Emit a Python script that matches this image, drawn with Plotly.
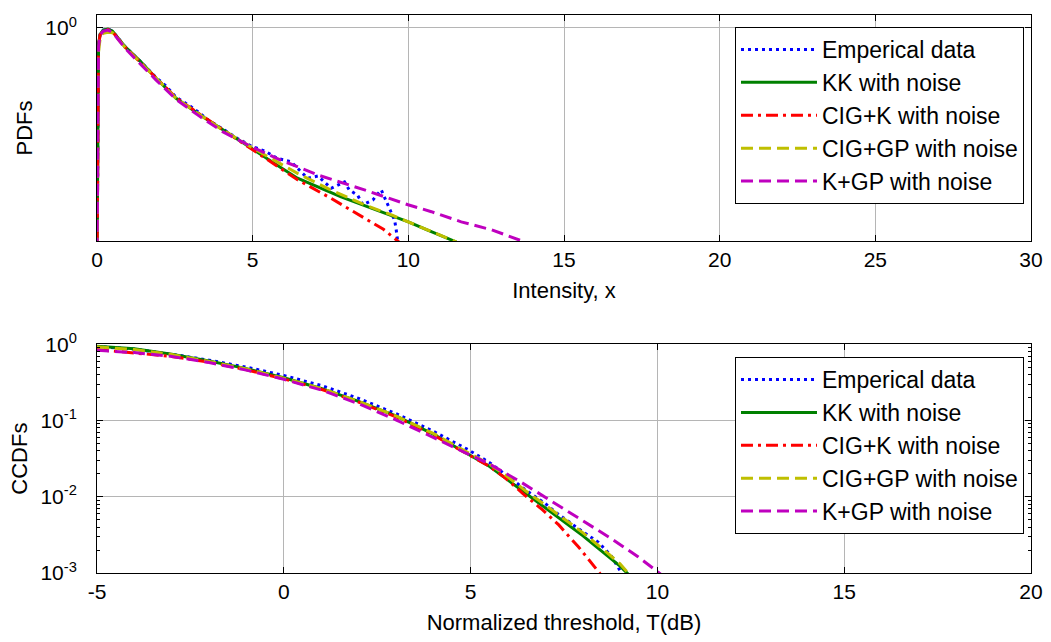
import plotly.graph_objects as go

# series names and styles (MATLAB default colour order)
names = ["Emperical data", "KK with noise", "CIG+K with noise", "CIG+GP with noise", "K+GP with noise"]
colors = ["#0000FF", "#008000", "#FF0000", "#BFBF00", "#BF00BF"]
dashes = ["3px,4px", "solid", "12px,5px,3px,5px", "12px,6px", "12px,6px"]

# tick labels (MATLAB style, plain hyphen)
pdf_xticks = [0, 5, 10, 15, 20, 25, 30]
ccdf_xticks = [-5, 0, 5, 10, 15, 20]
ccdf_xlabels = ["-5", "0", "5", "10", "15", "20"]
ccdf_yticks = [1, 0.1, 0.01, 0.001]
ccdf_ylabels = ["10<sup>0</sup>", "10<sup>-1</sup>", "10<sup>-2</sup>", "10<sup>-3</sup>"]

# ---- PDFs (top panel) ----
pdf_x_emp = [0, 0.02, 0.05, 0.1, 0.2, 0.35, 0.5, 0.9, 1.4, 1.9, 2.2, 2.54, 3.0, 3.3, 3.6, 4.05, 4.5,
             4.96, 5.42, 5.8, 6.23, 6.76, 7.1, 7.52, 7.95, 8.1, 8.37, 8.54, 8.86, 9.13, 9.4, 9.56, 9.61, 9.67]
pdf_y_emp = [3.16e-5, 0.0316, 0.501, 0.759, 0.912, 0.955, 0.871, 0.447, 0.234, 0.117, 0.0832, 0.0501,
             0.0339, 0.0251, 0.0182, 0.0126, 0.00851, 0.00603, 0.00479, 0.00355, 0.00309, 0.00151,
             0.00166, 0.000977, 0.00129, 0.000912, 0.000724, 0.000479, 0.000589, 0.000912, 0.000407,
             0.000245, 0.000162, 0.000089]

pdf_x_kk = [0, 0.02, 0.05, 0.1, 0.2, 0.35, 0.5, 0.9, 1.4, 1.9, 2.54, 3.3, 4.05, 4.96, 5.9, 6.44,
            7.84, 9.13, 10.0, 10.64, 11.55]
pdf_y_kk = [3.16e-5, 0.0316, 0.501, 0.759, 0.912, 0.955, 0.871, 0.447, 0.234, 0.1135, 0.0479, 0.0234,
            0.012, 0.0055, 0.0024, 0.00151, 0.000676, 0.000355, 0.000229, 0.000158, 0.0000955]

pdf_x_cigk = [0, 0.02, 0.05, 0.1, 0.2, 0.35, 0.5, 0.9, 1.4, 1.9, 2.54, 3.3, 4.05, 4.96, 5.9, 6.44,
              7.52, 8.59, 9.2, 9.72]
pdf_y_cigk = [3.16e-5, 0.0251, 0.479, 0.741, 0.891, 0.933, 0.851, 0.437, 0.224, 0.112, 0.049, 0.024,
              0.0123, 0.0055, 0.00229, 0.00141, 0.000631, 0.000269, 0.000166, 0.0000933]

pdf_x_ciggp = [0, 0.02, 0.05, 0.1, 0.2, 0.35, 0.5, 0.9, 1.4, 1.9, 2.54, 3.3, 4.05, 4.96, 5.9, 6.44,
               7.5, 8.59, 9.5, 10.64, 11.55]
pdf_y_ciggp = [3.16e-5, 0.0158, 0.355, 0.631, 0.794, 0.832, 0.813, 0.437, 0.224, 0.112, 0.0479, 0.0234,
               0.012, 0.00575, 0.00282, 0.00186, 0.000912, 0.000479, 0.000302, 0.000158, 0.0000955]

pdf_x_kgp = [0, 0.02, 0.05, 0.1, 0.2, 0.35, 0.5, 0.9, 1.4, 1.9, 2.54, 3.3, 4.05, 4.96, 5.9, 7.09,
             8.59, 9.99, 10.74, 11.7, 12.68, 13.74]
pdf_y_kgp = [3.16e-5, 0.0316, 0.447, 0.741, 0.871, 0.912, 0.832, 0.417, 0.209, 0.105, 0.0457, 0.0219,
             0.0112, 0.00589, 0.00331, 0.00174, 0.000912, 0.000479, 0.000355, 0.000229, 0.000162, 0.0000955]

# ---- CCDFs (bottom panel) ----
ccdf_x_emp = [-5, -4, -3, -2, -1, 0, 1, 2, 3, 4, 4.96, 5.5, 5.94, 6.5, 7.0, 7.27, 7.89, 8.43, 8.77, 9.0, 9.1]
ccdf_y_emp = [0.933, 0.861, 0.741, 0.617, 0.501, 0.389, 0.288, 0.195, 0.123, 0.0724, 0.0407, 0.0282,
              0.0195, 0.012, 0.00813, 0.00631, 0.0038, 0.00251, 0.00166, 0.00105, 0.000891]

ccdf_x_kk = [-5, -4, -3, -2, -1, 0, 1, 2, 3, 4, 4.96, 5.5, 5.94, 6.47, 7.0, 7.5, 8.0, 8.5, 9.0, 9.25]
ccdf_y_kk = [0.942, 0.871, 0.741, 0.603, 0.479, 0.363, 0.263, 0.178, 0.115, 0.0661, 0.0355, 0.0251,
             0.0174, 0.0112, 0.00724, 0.00479, 0.00309, 0.00195, 0.00123, 0.000933]

ccdf_x_cigk = [-5, -4, -3, -2, -1, 0, 1, 2, 3, 4, 4.96, 5.5, 5.94, 6.4, 6.92, 7.36, 7.89, 8.25, 8.5]
ccdf_y_cigk = [0.851, 0.776, 0.692, 0.582, 0.462, 0.351, 0.257, 0.174, 0.112, 0.0646, 0.0355, 0.0251,
               0.0174, 0.011, 0.00676, 0.00427, 0.00219, 0.00135, 0.000933]

ccdf_x_ciggp = [-5, -4, -3, -2, -1, 0, 1, 2, 3, 4, 4.96, 5.5, 5.94, 6.47, 7.0, 7.5, 8.0, 8.5, 9.0, 9.25]
ccdf_y_ciggp = [0.923, 0.851, 0.733, 0.596, 0.473, 0.359, 0.263, 0.178, 0.115, 0.0676, 0.0372, 0.0269,
                0.0191, 0.012, 0.00776, 0.00513, 0.00339, 0.00214, 0.00132, 0.000955]

ccdf_x_kgp = [-5, -4, -3, -2, -1, 0, 1, 2, 3, 4, 4.96, 5.5, 6.29, 7.0, 7.89, 8.77, 9.49, 10.1]
ccdf_y_kgp = [0.832, 0.776, 0.692, 0.575, 0.457, 0.347, 0.251, 0.166, 0.102, 0.0603, 0.0363, 0.0269,
              0.0162, 0.00977, 0.00525, 0.00282, 0.00162, 0.000955]

pdf_series = [(pdf_x_emp, pdf_y_emp), (pdf_x_kk, pdf_y_kk), (pdf_x_cigk, pdf_y_cigk),
              (pdf_x_ciggp, pdf_y_ciggp), (pdf_x_kgp, pdf_y_kgp)]
ccdf_series = [(ccdf_x_emp, ccdf_y_emp), (ccdf_x_kk, ccdf_y_kk), (ccdf_x_cigk, ccdf_y_cigk),
               (ccdf_x_ciggp, ccdf_y_ciggp), (ccdf_x_kgp, ccdf_y_kgp)]

FONT = "Arial, Liberation Sans, sans-serif"
fig = go.Figure()

for i, (xs, ys) in enumerate(pdf_series):
    fig.add_trace(go.Scatter(x=xs, y=ys, mode="lines", name=names[i],
                             line=dict(color=colors[i], width=3, dash=dashes[i]),
                             xaxis="x", yaxis="y", legend="legend"))
for i, (xs, ys) in enumerate(ccdf_series):
    fig.add_trace(go.Scatter(x=xs, y=ys, mode="lines", name=names[i],
                             line=dict(color=colors[i], width=3, dash=dashes[i]),
                             xaxis="x2", yaxis="y2", legend="legend2"))

axis_common = dict(showline=True, linecolor="black", linewidth=1, mirror="allticks",
                   ticks="inside", ticklen=6, tickcolor="black", showgrid=True,
                   gridcolor="#b5b5b5", gridwidth=1, zeroline=False, automargin=False,
                   tickfont=dict(family=FONT, size=21, color="black"))
title_font = dict(family=FONT, size=22, color="black")
legend_common = dict(xanchor="right", yanchor="top", bgcolor="white",
                     bordercolor="black", borderwidth=1,
                     font=dict(family=FONT, size=23, color="black"), itemwidth=76)

fig.update_layout(
    template="none",
    width=1051, height=642,
    margin=dict(l=97, r=20, t=15, b=69, autoexpand=False),
    paper_bgcolor="white", plot_bgcolor="white",
    font=dict(family=FONT, size=21, color="black"),
    xaxis=dict(axis_common, domain=[0, 1], anchor="y", range=[0, 30],
               tickvals=pdf_xticks,
               title=dict(text="Intensity, x", font=title_font, standoff=12)),
    yaxis=dict(axis_common, domain=[0.595, 1], anchor="x", type="log", range=[-4, 0.244],
               tickvals=[1], ticktext=["10<sup>0</sup>"], ticklabelstandoff=15,
               title=dict(text="PDFs", font=title_font, standoff=6)),
    xaxis2=dict(axis_common, domain=[0, 1], anchor="y2", range=[-5, 20],
                tickvals=ccdf_xticks, ticktext=ccdf_xlabels,
                title=dict(text="Normalized threshold, T(dB)", font=title_font, standoff=12)),
    yaxis2=dict(axis_common, domain=[0, 0.410], anchor="x2", type="log", range=[-3, 0],
                tickvals=ccdf_yticks, ticktext=ccdf_ylabels, ticklabelstandoff=15,
                minor=dict(ticks="inside", ticklen=3, tickcolor="black", dtick="D1", showgrid=False),
                title=dict(text="CCDFs", font=title_font, standoff=6)),
    legend=dict(legend_common, x=0.9925, y=0.9785),
    legend2=dict(legend_common, x=0.9925, y=0.387),
)

# drop the default page margin so the figure sits at the window's top-left corner
fig.write_html("out.html", config={"displayModeBar": False},
               post_script="document.body.style.margin='0px';")
